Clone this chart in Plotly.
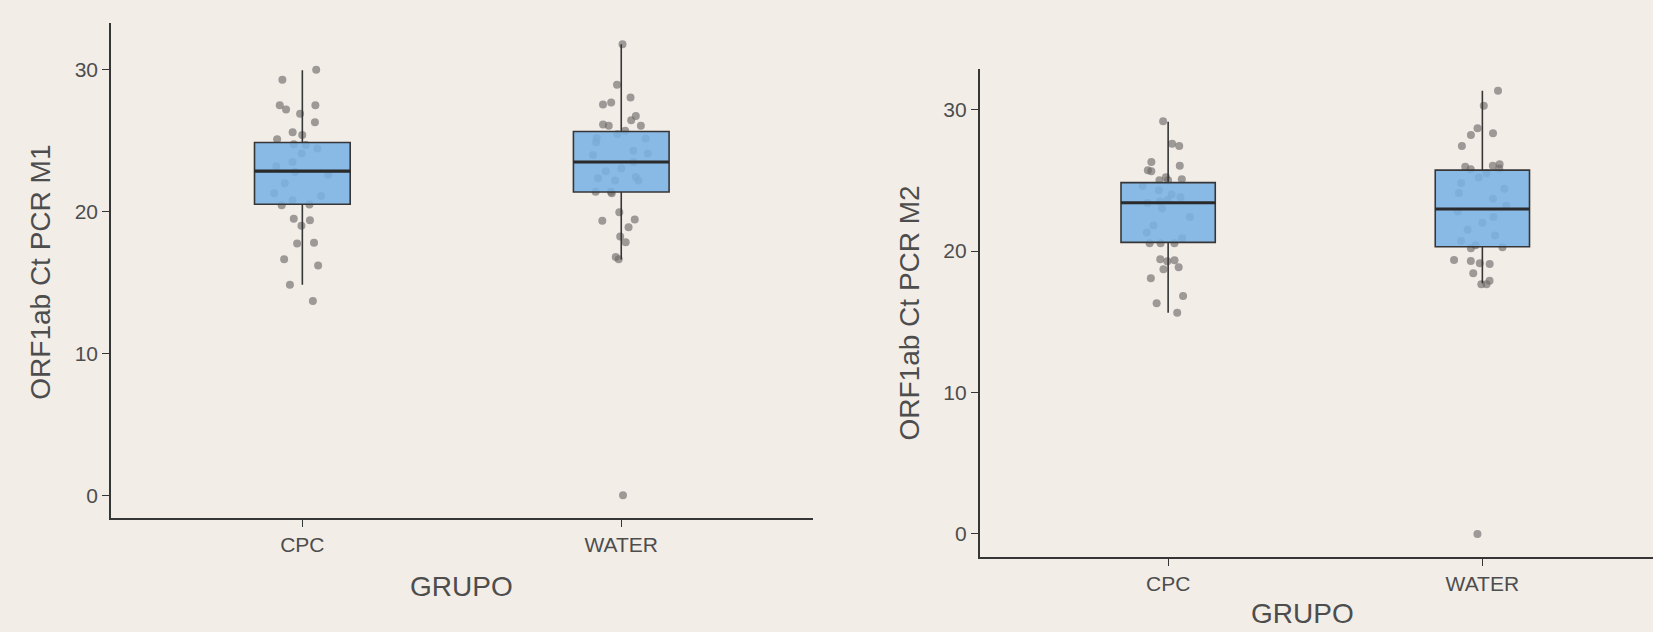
import plotly.graph_objects as go

# ---------------- data ----------------
groups = ["CPC", "WATER"]

m1_cpc = [30.0, 29.3, 27.5, 27.5, 27.2, 26.9, 26.3, 25.6, 25.4, 25.1,
          24.75, 24.7, 24.45, 24.1, 23.5, 23.2, 22.8, 22.6, 22.0, 21.3, 21.1, 20.8, 20.5,
          20.45, 19.5, 19.4, 19.0, 17.8, 17.75, 16.65, 16.2, 14.85, 13.7]
m1_water = [31.8, 28.95, 28.05, 27.7, 27.55, 26.75, 26.45, 26.15, 26.05, 26.05, 25.7,
            25.45, 25.2, 25.15, 24.9, 24.3, 24.1, 24.0, 23.5, 23.05, 22.85, 22.45, 22.35, 22.2, 22.2,
            21.4, 21.3, 21.4,
            19.95, 19.45, 19.35, 18.9, 18.25, 17.85, 16.8, 16.65, 0.0]
m2_cpc = [29.17, 27.58, 27.42, 26.29, 26.03, 25.63, 25.7, 25.21, 25.07, 25.0, 25.0,
          24.6, 24.3, 24.0, 23.8, 23.6, 23.5, 23.4, 23.0, 22.4, 21.8, 21.3, 20.9,
          20.54, 20.54, 20.54,
          19.27, 19.41, 19.35, 18.71, 18.85, 18.07, 16.82, 16.3, 15.64]
m2_water = [31.33, 30.27, 28.67, 28.2, 28.32, 27.42, 26.13, 25.96, 26.03, 25.77, 25.84,
            25.5, 25.2, 24.8, 24.4, 24.1, 23.7, 23.2, 22.8, 22.4, 22.0, 21.5, 21.1, 20.7, 20.4,
            20.26, 20.19, 19.36, 19.08, 19.29, 19.13, 18.42, 17.9, 17.65, 17.65, 0.0]

# box statistics (CPC, WATER)
m1_q1 = [20.52, 21.38]
m1_median = [22.85, 23.5]
m1_q3 = [24.87, 25.65]
m1_lower = [14.85, 16.63]
m1_upper = [29.97, 31.81]

m2_q1 = [20.61, 20.30]
m2_median = [23.41, 22.97]
m2_q3 = [24.83, 25.72]
m2_lower = [15.64, 17.72]
m2_upper = [29.14, 31.33]

y_ticks = [0, 10, 20, 30]
y_title_1 = "ORF1ab Ct PCR M1"
y_title_2 = "ORF1ab Ct PCR M2"
x_title = "GRUPO"

# ---------------- style ----------------
W, H = 1653, 632
BG = "#f3ede8"
BOX_FILL = "rgba(122,178,228,0.88)"
LINE = "#363636"
PT = "rgba(110,108,106,0.65)"
TXT = "#4d4d4d"
FONT = "Liberation Sans, Arial, sans-serif"

fig = go.Figure()


def add_panel(xa, ya, cpc, water, q1, med, q3, lo, up):
    xs = [groups[0]] * len(cpc) + [groups[1]] * len(water)
    fig.add_trace(go.Box(
        x=xs, y=cpc + water, xaxis=xa, yaxis=ya,
        boxpoints="all", jitter=0.7, pointpos=0, width=0.3,
        fillcolor="rgba(0,0,0,0)", line=dict(width=0, color="rgba(0,0,0,0)"),
        marker=dict(color=PT, size=8, line=dict(width=0)),
        showlegend=False, hoverinfo="y"))
    fig.add_trace(go.Box(
        x=groups, q1=q1, median=med, q3=q3, lowerfence=lo, upperfence=up,
        xaxis=xa, yaxis=ya, width=0.3, boxpoints=False,
        fillcolor=BOX_FILL, line=dict(color=LINE, width=1.6),
        whiskerwidth=0, showlegend=False))
    # thicker median line
    fig.add_trace(go.Box(
        x=groups, q1=med, median=med, q3=med, lowerfence=med, upperfence=med,
        xaxis=xa, yaxis=ya, width=0.3, boxpoints=False,
        fillcolor="rgba(0,0,0,0)", line=dict(color="#2a2a2a", width=3.2),
        whiskerwidth=0, showlegend=False, hoverinfo="skip"))


add_panel("x", "y", m1_cpc, m1_water, m1_q1, m1_median, m1_q3, m1_lower, m1_upper)
add_panel("x2", "y2", m2_cpc, m2_water, m2_q1, m2_median, m2_q3, m2_lower, m2_upper)

axis_common = dict(
    showline=True, linecolor=LINE, linewidth=1.5,
    ticks="outside", ticklen=7, tickwidth=1.4, tickcolor=LINE,
    showgrid=False, zeroline=False,
    tickfont=dict(family=FONT, size=21, color=TXT),
    automargin=False,
)

# pixel layout
L1x0, L1x1, L1y0, L1y1 = 111, 812.6, 23, 518
R1x0, R1x1, R1y0, R1y1 = 979.6, 1653, 68.5, 557

fig.update_layout(
    width=W, height=H,
    margin=dict(l=0, r=0, t=0, b=0),
    paper_bgcolor=BG, plot_bgcolor=BG,
    boxmode="overlay",
    xaxis=dict(domain=[L1x0 / W, L1x1 / W], range=[-0.6, 1.6], type="category",
               anchor="y", **axis_common),
    yaxis=dict(domain=[1 - L1y1 / H, 1 - L1y0 / H], range=[-1.6, 33.3],
               tickvals=y_ticks, anchor="x", **axis_common),
    xaxis2=dict(domain=[R1x0 / W, R1x1 / W], range=[-0.6, 1.543], type="category",
                anchor="y2", **axis_common),
    yaxis2=dict(domain=[1 - R1y1 / H, 1 - R1y0 / H], range=[-1.63, 32.9],
                tickvals=y_ticks, anchor="x2", **axis_common),
)

title_font = dict(family=FONT, size=28, color=TXT)
ann = [
    dict(text=y_title_1, x=39.7 / W, y=1 - 272 / H, textangle=-90, yanchor="middle"),
    dict(text=y_title_2, x=908.5 / W, y=1 - 313 / H, textangle=-90, yanchor="middle"),
    dict(text=x_title, x=461.7 / W, y=1 - 586 / H, yanchor="middle"),
    dict(text=x_title, x=1302 / W, y=1 - 631 / H, yanchor="bottom"),
]
for a in ann:
    fig.add_annotation(xref="paper", yref="paper", showarrow=False,
                       xanchor="center", font=title_font, **a)

fig.write_html("out.html",
               config={"displayModeBar": False},
               post_script="document.body.style.margin='0';document.body.style.overflow='hidden';")
